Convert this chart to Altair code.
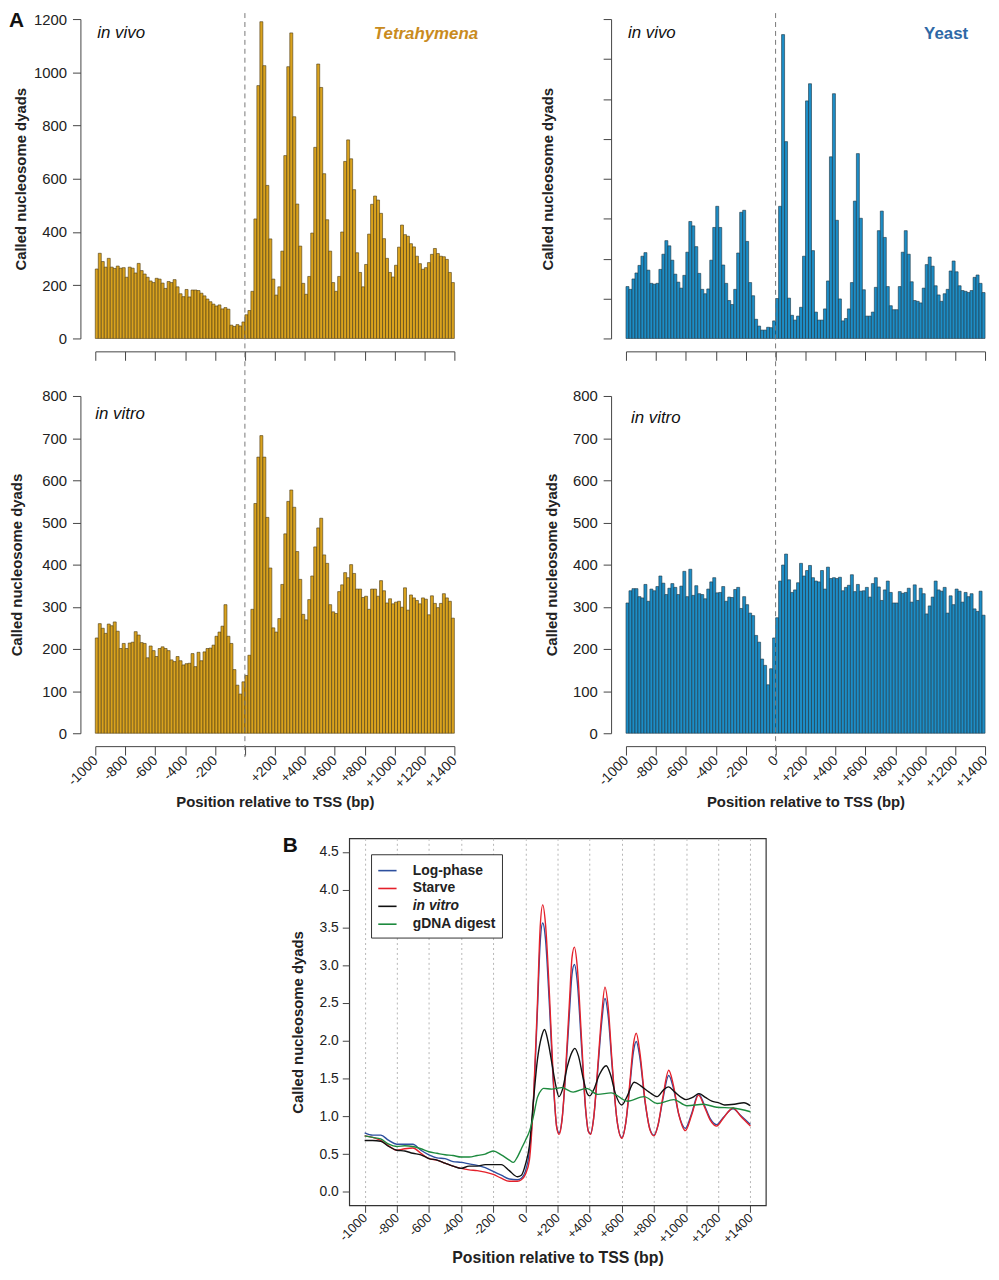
import altair as alt
import pandas as pd

FONT = "Liberation Sans"
AX = "#444444"
TXT = "#222222"

# 20 bp bins from -1000 to +1400 relative to the TSS
BIN = 20
bin_start = list(range(-1000, 1400, BIN))
ticks_bp = list(range(-1000, 1401, 200))

tet_vivo = [
    261, 320, 289, 268, 301, 268, 263, 272, 264, 266, 230, 268, 264, 246, 282, 255, 242, 230, 216, 210,
    226, 223, 208, 188, 214, 210, 221, 194, 168, 157, 184, 156, 182, 182, 180, 170, 160, 148, 138, 129,
    122, 126, 111, 116, 110, 50, 45, 52, 47, 62,
    89, 105, 177, 449, 950, 1190, 1025, 575, 374, 223, 163, 194, 328, 687, 1021, 1148, 833, 505, 347, 207,
    166, 233, 396, 718, 1031, 943, 619, 446, 328, 210, 177, 233, 400, 665, 746, 675, 559, 322, 248, 194,
    278, 392, 504, 535, 520, 470, 375, 301, 248, 231, 275, 343, 426, 390, 384, 356, 344, 309, 281, 260,
    266, 285, 316, 338, 319, 309, 307, 297, 248, 210,
]
tet_vitro = [
    226, 260, 249, 237, 259, 255, 264, 242, 201, 213, 201, 214, 216, 241, 233, 215, 213, 179, 207, 196,
    182, 201, 205, 201, 196, 174, 170, 182, 172, 162, 165, 166, 189, 158, 192, 172, 193, 201, 202, 209,
    230, 240, 254, 305, 230, 213, 151, 114, 93, 122,
    137, 185, 294, 545, 655, 706, 655, 512, 392, 250, 240, 272, 353, 473, 550, 577, 536, 431, 365, 282,
    269, 317, 373, 442, 487, 510, 423, 403, 305, 288, 284, 336, 352, 381, 369, 400, 379, 342, 342, 322,
    325, 294, 342, 342, 325, 362, 338, 309, 319, 307, 311, 313, 299, 345, 292, 328, 321, 315, 307, 321,
    318, 281, 326, 308, 298, 308, 331, 321, 313, 273,
]
yeast_vivo = [
    130, 123, 149, 164, 183, 206, 215, 171, 138, 136, 138, 173, 211, 245, 232, 196, 161, 141, 126, 158,
    216, 293, 282, 230, 163, 123, 112, 124, 196, 278, 331, 278, 184, 138, 95, 85, 123, 214, 316, 321,
    243, 140, 107, 48, 31, 21, 21, 28, 27, 44,
    100, 331, 761, 493, 101, 58, 46, 56, 78, 206, 595, 638, 220, 66, 46, 46, 74, 144, 455, 613,
    296, 99, 44, 50, 74, 140, 344, 463, 301, 122, 56, 56, 66, 128, 270, 319, 253, 130, 82, 72,
    72, 130, 216, 270, 211, 142, 95, 93, 89, 126, 185, 204, 181, 132, 109, 93, 112, 123, 169, 194,
    167, 132, 120, 118, 115, 120, 153, 159, 138, 115,
]
yeast_vitro = [
    309, 338, 343, 343, 324, 321, 353, 313, 342, 338, 348, 373, 356, 329, 344, 355, 346, 329, 349, 384,
    324, 389, 327, 350, 331, 329, 319, 342, 359, 369, 333, 334, 348, 313, 323, 322, 341, 346, 296, 324,
    305, 285, 279, 232, 216, 176, 161, 115, 153, 226,
    274, 361, 399, 425, 364, 334, 340, 357, 403, 373, 386, 398, 369, 361, 359, 386, 342, 394, 367, 369,
    367, 370, 338, 346, 351, 376, 336, 353, 337, 338, 346, 323, 355, 369, 347, 315, 340, 361, 334, 309,
    309, 336, 332, 334, 344, 311, 352, 315, 344, 331, 283, 302, 323, 361, 340, 337, 346, 285, 326, 305,
    342, 337, 311, 334, 324, 331, 295, 289, 337, 280,
]

# panel B: averaged profiles
pre_x = [-1000, -950, -900, -850, -800, -750, -700, -650, -600, -550, -500, -450, -400, -350, -300,
         -250, -200, -150, -100, -50, -25]
log_x = pre_x + [0, 25, 50, 75, 92, 108, 125, 150, 175, 195, 210, 228, 250, 275, 290, 305, 322, 350, 375,
                 392, 405, 425, 450, 475, 495, 515, 540, 570, 600, 625, 650, 672, 690, 712, 745, 775, 800,
                 825, 855, 892, 920, 955, 995, 1035, 1077, 1115, 1150, 1190, 1230, 1292, 1340, 1400]
log_y = [0.78, 0.75, 0.75, 0.68, 0.63, 0.63, 0.63, 0.55, 0.49, 0.45, 0.44, 0.40, 0.39, 0.37, 0.35, 0.32,
         0.27, 0.22, 0.17, 0.16, 0.18,
         0.27, 0.53, 1.20, 2.40, 3.30, 3.56, 3.35, 2.45, 1.40, 0.86, 0.78, 0.96, 1.55, 2.40, 2.88, 3.01, 2.80,
         1.90, 1.08, 0.80, 0.77, 0.98, 1.60, 2.25, 2.56, 2.33, 1.65, 0.95, 0.72, 0.92, 1.40, 1.85, 1.99, 1.78,
         1.18, 0.83, 0.75, 0.88, 1.22, 1.54, 1.38, 1.02, 0.84, 1.04, 1.30, 1.14, 0.97, 0.89, 0.98, 1.10, 1.01,
         0.89]
starve_x = log_x
starve_y = [0.74, 0.72, 0.68, 0.61, 0.55, 0.57, 0.58, 0.51, 0.44, 0.42, 0.38, 0.34, 0.31, 0.29, 0.28, 0.26,
            0.23, 0.18, 0.14, 0.14, 0.16,
            0.23, 0.42, 1.20, 2.50, 3.50, 3.80, 3.55, 2.60, 1.45, 0.85, 0.76, 0.95, 1.60, 2.55, 3.10, 3.24,
            3.00, 2.00, 1.10, 0.80, 0.76, 0.98, 1.65, 2.35, 2.71, 2.45, 1.70, 0.95, 0.71, 0.92, 1.45, 1.95,
            2.10, 1.85, 1.20, 0.82, 0.74, 0.88, 1.25, 1.61, 1.42, 1.02, 0.81, 1.02, 1.28, 1.12, 0.95, 0.87,
            0.97, 1.11, 1.00, 0.87]
vitro_x = pre_x + [0, 25, 50, 75, 100, 119, 140, 165, 190, 209, 230, 260, 290, 308, 330, 360, 385, 400, 425,
                   460, 503, 530, 560, 600, 630, 677, 720, 770, 820, 860, 890, 930, 970, 1000, 1040, 1080,
                   1120, 1160, 1200, 1240, 1300, 1360, 1400]
vitro_y = [0.68, 0.68, 0.67, 0.60, 0.55, 0.54, 0.51, 0.49, 0.44, 0.42, 0.38, 0.34, 0.31, 0.34, 0.34, 0.36,
           0.36, 0.36, 0.28, 0.20, 0.22,
           0.36, 0.61, 1.20, 1.75, 2.05, 2.15, 2.00, 1.70, 1.40, 1.26, 1.35, 1.65, 1.85, 1.90, 1.80, 1.50,
           1.30, 1.27, 1.35, 1.55, 1.67, 1.55, 1.30, 1.15, 1.25, 1.45, 1.40, 1.32, 1.26, 1.35, 1.39, 1.32,
           1.25, 1.22, 1.25, 1.30, 1.25, 1.20, 1.18, 1.15, 1.16, 1.18, 1.14]
gdna_x = pre_x[:-3] + [-100, -75, -50, -25, 0, 25, 50, 75, 100, 113, 164, 226, 297, 380, 451, 533, 636, 738,
                       820, 923, 1005, 1108, 1190, 1292, 1400]
gdna_y = [0.74, 0.72, 0.70, 0.63, 0.60, 0.61, 0.60, 0.57, 0.53, 0.51, 0.49, 0.48, 0.46, 0.46, 0.48, 0.50,
          0.54, 0.49, 0.42, 0.39, 0.46, 0.57, 0.68, 0.80, 1.00, 1.25, 1.35, 1.37, 1.36, 1.38, 1.32, 1.37,
          1.29, 1.31, 1.20, 1.26, 1.17, 1.22, 1.14, 1.16, 1.12, 1.11, 1.06]

series_names = ["Log-phase", "Starve", "in vitro", "gDNA digest"]
series_colors = ["#2d4f9e", "#e4202a", "#111111", "#1d8a3e"]

TET_FILL, TET_LINE = "#d9a21e", "#4a3912"
YST_FILL, YST_LINE = "#1d8dc6", "#1b3442"


def bp_expr(hide_zero=False):
    expr = "datum.value > 0 ? '+' + datum.value : '' + datum.value"
    if hide_zero:
        expr = "datum.value == 0 ? '' : (" + expr + ")"
    return expr


def x_axis(bottom, hide_zero=False):
    if not bottom:
        return alt.Axis(values=ticks_bp, offset=13, tickSize=9, grid=False, domainColor=AX,
                        tickColor=AX, labels=False, title=None)
    return alt.Axis(values=ticks_bp, offset=13, tickSize=9, grid=False, domainColor=AX, tickColor=AX,
                    labelAngle=315, labelAlign="right", labelBaseline="middle", labelPadding=3,
                    labelFontSize=14, labelColor=TXT, labelExpr=bp_expr(hide_zero), labelOverlap=False,
                    title="Position relative to TSS (bp)", titleFontSize=15, titleFontWeight="bold",
                    titleColor=TXT, titlePadding=4)


def note(text, x, y, align="left", size=17, style="italic", weight="normal", color="#111111"):
    return alt.Chart(pd.DataFrame({"t": [text]})).mark_text(
        align=align, baseline="middle", fontSize=size, fontStyle=style, fontWeight=weight,
        color=color, font=FONT,
    ).encode(text="t:N", x=alt.value(x), y=alt.value(y))


def hist_panel(values, fill, line, ymax, ystep, height, bottom, ylabels, title_pad,
               rule_top, rule_bottom, notes, hide_zero=False):
    df = pd.DataFrame({"start": bin_start, "end": [s + BIN for s in bin_start], "dyads": values})
    xaxis = x_axis(bottom, hide_zero)
    xscale = alt.Scale(domain=[-1000, 1400], nice=False, zero=False)
    bars = alt.Chart(df).mark_rect(fill=fill, stroke=line, strokeWidth=0.6).encode(
        x=alt.X("start:Q", scale=xscale, axis=xaxis),
        x2="end:Q",
        y=alt.Y("dyads:Q", scale=alt.Scale(domain=[0, ymax], nice=False),
                axis=alt.Axis(values=list(range(0, ymax + 1, ystep)), offset=15, tickSize=8, grid=False,
                              domainColor=AX, tickColor=AX, labels=ylabels, labelAngle=0, format="d",
                              labelFontSize=15, labelPadding=6, labelColor=TXT,
                              title="Called nucleosome dyads", titleFontSize=15, titleFontWeight="bold",
                              titleColor=TXT, titlePadding=title_pad)),
        y2=alt.datum(0),
    )
    tss = alt.Chart(pd.DataFrame({"tss": [0]})).mark_rule(
        color="#777777", strokeDash=[5, 4], strokeWidth=1
    ).encode(x=alt.X("tss:Q", scale=xscale, axis=xaxis), y=alt.value(rule_top), y2=alt.value(rule_bottom))
    return alt.layer(bars, tss, *notes).properties(width=362, height=height)


H_TOP, H_BOT, H_B = 322, 340, 370

tl = hist_panel(tet_vivo, TET_FILL, TET_LINE, 1200, 200, H_TOP, False, True, 5, -6, H_TOP + 48, [
    note("in vivo", 2, 14),
    note("Tetrahymena", 386, 15, align="right", weight="bold", color="#c98b1e"),
    note("A", -87, 2, size=21, style="normal", weight="bold"),
])
tr = hist_panel(yeast_vivo, YST_FILL, YST_LINE, 800, 100, H_TOP, False, False, 48, -6, H_TOP + 48, [
    note("in vivo", 2, 14),
    note("Yeast", 345, 15, align="right", style="normal", weight="bold", color="#2e68a6"),
])
bl = hist_panel(tet_vitro, TET_FILL, TET_LINE, 800, 100, H_BOT, True, True, 17, -8, H_BOT + 24, [
    note("in vitro", 0, 18),
], hide_zero=True)
br = hist_panel(yeast_vitro, YST_FILL, YST_LINE, 800, 100, H_BOT, True, True, 13, -8, H_BOT + 24, [
    note("in vitro", 5, 22),
])

rows = []
for name, xs, ys in zip(series_names, [log_x, starve_x, vitro_x, gdna_x],
                        [log_y, starve_y, vitro_y, gdna_y]):
    for x, y in zip(xs, ys):
        rows.append({"pos": x, "dyads": y, "sample": name})
dfb = pd.DataFrame(rows)

profile = alt.Chart(dfb).mark_line(strokeWidth=1.4, interpolate="monotone").encode(
    x=alt.X("pos:Q", scale=alt.Scale(domain=[-1096, 1496], nice=False, zero=False),
            axis=alt.Axis(values=ticks_bp, grid=True, gridDash=[2, 3], gridColor="#b5b5b5", domain=False,
                          tickSize=7, tickColor=AX, labelAngle=315, labelAlign="right",
                          labelBaseline="middle", labelPadding=3, labelFontSize=13, labelColor=TXT,
                          labelOverlap=False, labelExpr=bp_expr(),
                          title="Position relative to TSS (bp)", titleFontSize=16,
                          titleFontWeight="bold", titleColor=TXT, titlePadding=4)),
    y=alt.Y("dyads:Q", scale=alt.Scale(domain=[-0.18, 4.68], nice=False, zero=False),
            axis=alt.Axis(values=[0, 0.5, 1, 1.5, 2, 2.5, 3, 3.5, 4, 4.5], format=".1f", grid=False,
                          domain=False, tickSize=7, tickColor=AX, labelFontSize=14, labelPadding=4,
                          labelColor=TXT, title="Called nucleosome dyads", titleFontSize=15,
                          titleFontWeight="bold", titleColor=TXT, titlePadding=14)),
    color=alt.Color("sample:N", sort=series_names,
                    scale=alt.Scale(domain=series_names, range=series_colors),
                    legend=alt.Legend(orient="none", legendX=278, legendY=842, title=None,
                                      strokeColor="#333333", fillColor="white", padding=6,
                                      symbolType="stroke", symbolSize=340, symbolStrokeWidth=1.6,
                                      labelFontSize=14, labelFontWeight="bold", labelColor=TXT,
                                      labelFontStyle=alt.ExprRef(
                                          expr="datum.label == 'in vitro' ? 'italic' : 'normal'"),
                                      labelOffset=15, rowPadding=0)),
)
panel_b = alt.layer(
    profile,
    note("B", -67, 8, size=21, style="normal", weight="bold"),
).properties(width=420, height=H_B, view=alt.ViewBackground(stroke="#333333", strokeWidth=1.2))

spacer = alt.Chart(pd.DataFrame({"v": [0]})).mark_point(opacity=0).encode(
    x=alt.X("v:Q", axis=None), y=alt.Y("v:Q", axis=None)
).properties(width=1, height=1)

upper = alt.vconcat(alt.hconcat(tl, tr, spacing=61), alt.hconcat(bl, br, spacing=84), spacing=0)
chart = alt.vconcat(upper, alt.hconcat(spacer, panel_b, spacing=184), spacing=24).properties(
    padding={"left": 0, "top": -4, "right": 0, "bottom": 0}
).configure(font=FONT).configure_axis(labelOverlap=False).configure_view(stroke="transparent")

chart.save("out.html", embed_options={"renderer": "svg", "actions": False})
